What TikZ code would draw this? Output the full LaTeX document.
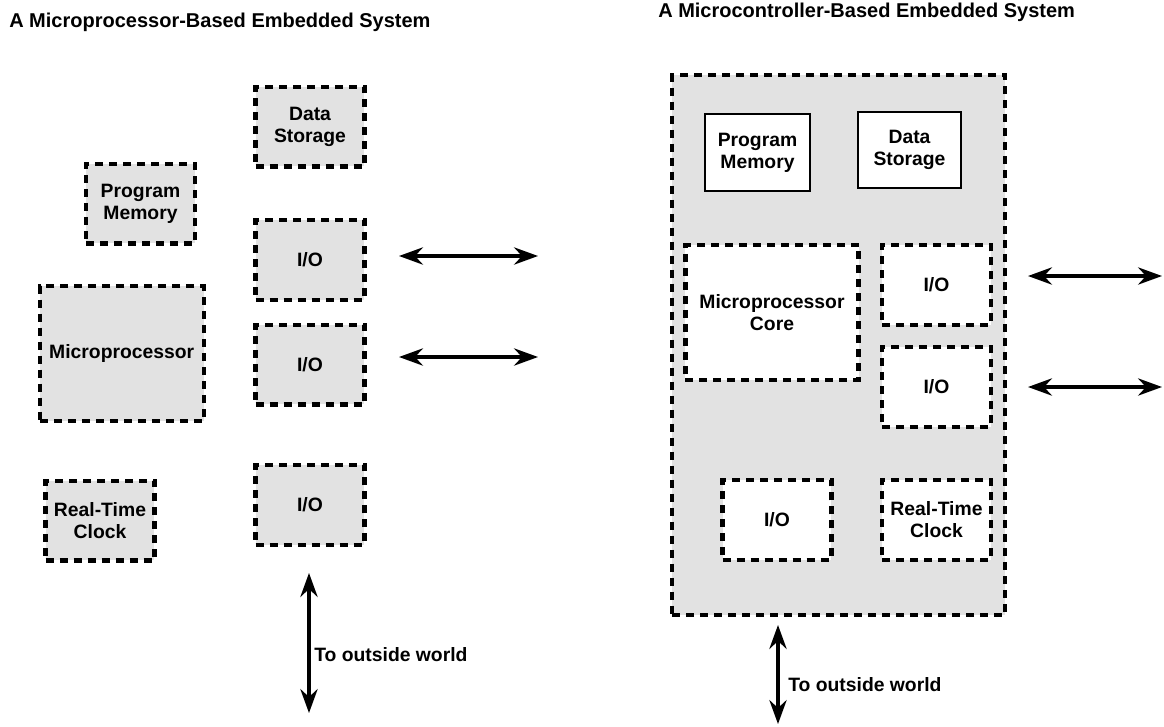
\documentclass[tikz,border=0pt]{standalone}
\usepackage{fontspec}
\setmainfont{Liberation Sans}
\usetikzlibrary{arrows.meta,positioning}
\definecolor{chipgray}{RGB}{226,226,226}

\tikzset{
    dbox/.style={draw, line width=3.3pt, dash pattern=on 6pt off 4.5pt, fill=chipgray,
        align=center, inner sep=0pt, minimum width=81.5pt, minimum height=59.7pt},
    sbox/.style={draw, line width=1.5pt, fill=white, align=center, inner sep=0pt,
        minimum width=78.8pt, minimum height=57.8pt},
    link/.style={line width=2.3pt,
        {Stealth[length=18pt,width=13pt,inset=6pt]}-{Stealth[length=18pt,width=13pt,inset=6pt]}},
    lbl/.style={anchor=west, inner sep=0pt},
    ttl/.style={anchor=base west, inner sep=0pt, font=\fontsize{15}{17}\selectfont\bfseries}
}

\begin{document}
\begin{tikzpicture}[x=0.75pt, y=-0.75pt, font=\fontsize{14.5}{16.5}\selectfont\bfseries]
    \useasboundingbox (0,0) rectangle (1164,726);

    % Titles
    \node[ttl] (titleL) at (9,27) {A Microprocessor-Based Embedded System};
    \node[ttl] (titleR) at (658,17) {A Microcontroller-Based Embedded System};

    % Draw the separate chips of the microprocessor-based system
    \node[dbox] (dsL) at (310,126.5) {Data\\Storage};
    \node[dbox] (pmL) at (140.5,203.5) {Program\\Memory};
    \node[dbox, minimum width=123pt, minimum height=101pt] (mpL) at (121.75,353.5) {Microprocessor};
    \node[dbox] (rtcL) at (100,520.5) {Real-Time\\Clock};
    \foreach \n/\y in {1/260, 2/364.5, 3/505} {
        \node[dbox] (ioL\n) at (310,\y) {I/O};
    }

    % Arrows to the outside world (left)
    \foreach \n/\y in {1/256, 2/357} {
        \coordinate (aL\n a) at (399,\y);
        \coordinate (aL\n b) at (538,\y);
        \draw[link] (aL\n a) -- (aL\n b);
    }
    \coordinate (vLa) at (309,573);
    \coordinate (vLb) at (309,713);
    \draw[link] (vLa) -- (vLb);
    \node[lbl] (owL) at (314,655) {To outside world};

    % Draw the microcontroller with everything on one chip
    \node[dbox, minimum width=249.5pt, minimum height=405pt] (mcu) at (838.5,345) {};
    \node[sbox] (pmR) at (757.5,152.5) {Program\\Memory};
    \node[sbox, minimum width=77.3pt, minimum height=57pt] (dsR) at (909.5,150) {Data\\Storage};
    \node[dbox, fill=white, minimum width=130pt, minimum height=101pt] (coreR) at (772,312.5) {Microprocessor\\Core};
    \foreach \n/\x/\y in {1/936.5/285, 2/936.5/387, 3/777/520} {
        \node[dbox, fill=white] (ioR\n) at (\x,\y) {I/O};
    }
    \node[dbox, fill=white] (rtcR) at (936.5,520) {Real-Time\\Clock};

    % Arrows to the outside world (right)
    \foreach \n/\y in {1/276, 2/387} {
        \coordinate (aR\n a) at (1028,\y);
        \coordinate (aR\n b) at (1162,\y);
        \draw[link] (aR\n a) -- (aR\n b);
    }
    \coordinate (vRa) at (778,625);
    \coordinate (vRb) at (778,724);
    \draw[link] (vRa) -- (vRb);
    \node[lbl] (owR) at (788,685) {To outside world};
\end{tikzpicture}
\end{document}
